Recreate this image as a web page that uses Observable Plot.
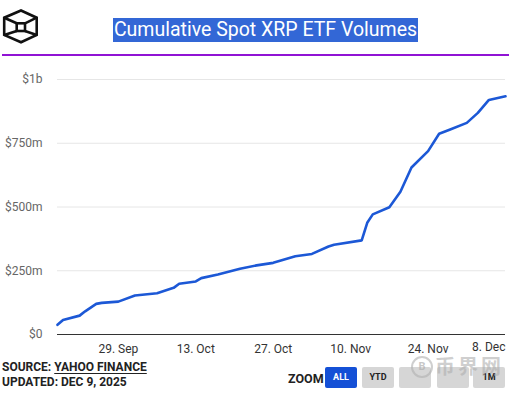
<!DOCTYPE html>
<html><head><meta charset="utf-8">
<script src="https://cdn.jsdelivr.net/npm/d3@7"></script>
<script src="https://cdn.jsdelivr.net/npm/@observablehq/plot@0.6"></script>
<style>
html,body{margin:0;padding:0;background:#fff;}
#wrap{position:relative;width:520px;height:398px;overflow:hidden;font-family:Roboto,"Noto Sans",sans-serif;}
#title{position:absolute;top:18px;left:0;width:531px;text-align:center;}
#title span{background:#3367d6;color:#fff;font-size:19.5px;line-height:24px;padding:0 1px;display:inline-block;}
#rule{position:absolute;top:54px;left:2px;width:507px;height:2px;background:#9013d4;}
#logo{position:absolute;left:2px;top:9px;}
#chart{position:absolute;left:0;top:60px;}
.foot{position:absolute;left:2px;font-weight:bold;font-size:12px;color:#222;letter-spacing:0px;}
.foot u{text-decoration-thickness:1px;text-underline-offset:2px;}
#zoomlbl{position:absolute;left:288px;top:371px;font-weight:bold;font-size:12.5px;color:#222;}
.btn{position:absolute;top:367px;width:32px;height:21px;border-radius:2px;background:#d6d6d6;color:#222;font-size:9px;font-weight:bold;text-align:center;line-height:21px;}
.btn.on{background:#1450d6;color:#fff;}
#wmc{position:absolute;left:411px;top:356px;width:18px;height:18px;border-radius:50%;border:2px solid rgba(175,175,175,0.6);color:rgba(175,175,175,0.7);font-size:11px;font-weight:bold;text-align:center;line-height:18px;}
#wm{position:absolute;left:435px;top:357px;color:rgba(175,175,175,0.6);font-family:"Noto Sans CJK SC";font-size:20px;line-height:17px;height:17px;font-weight:bold;letter-spacing:3px;}
</style></head>
<body><div id="wrap">
<svg id="logo" width="38" height="36" viewBox="0 0 38 36" fill="none" stroke="#111" stroke-width="2.6" stroke-linejoin="miter">
<polygon points="19,1.5 34.7,8.7 34.7,26 19,33.3 2.2,26 2.2,8.7"/>
<line x1="2.2" y1="8.7" x2="14.7" y2="14.3"/>
<line x1="34.7" y1="8.7" x2="23" y2="14.3"/>
<line x1="2.2" y1="26" x2="14.7" y2="22"/>
<line x1="34.7" y1="26" x2="23" y2="22"/>
<rect x="14.7" y="14.3" width="8.3" height="7.7"/>
</svg>
<div id="title"><span>Cumulative Spot XRP ETF Volumes</span></div>
<div id="rule"></div>
<div id="chart"></div>
<div class="foot" style="top:360px">SOURCE: <u>YAHOO FINANCE</u></div>
<div class="foot" style="top:375px">UPDATED: DEC 9, 2025</div>
<div id="zoomlbl">ZOOM</div>
<div class="btn on" style="left:325px">ALL</div>
<div class="btn" style="left:362px">YTD</div>
<div class="btn" style="left:399px"></div>
<div class="btn" style="left:437px"></div>
<div class="btn" style="left:473px">1M</div>
<div id="wmc">B</div>
<div id="wm">币界网</div>
</div>
<script>
const dates = ["2025-09-18","2025-09-19","2025-09-22","2025-09-23","2025-09-25","2025-09-26","2025-09-29","2025-10-02","2025-10-06","2025-10-09","2025-10-10","2025-10-13","2025-10-14","2025-10-17","2025-10-21","2025-10-24","2025-10-27","2025-10-31","2025-11-03","2025-11-06","2025-11-07","2025-11-12","2025-11-13","2025-11-14","2025-11-17","2025-11-19","2025-11-21","2025-11-24","2025-11-26","2025-11-28","2025-12-01","2025-12-03","2025-12-05","2025-12-08"];
const volumesM = [38,57,74,91,120,124,129,153,162,183,199,208,221,235,258,271,281,307,316,345,352,369,438,471,499,560,655,719,787,804,830,869,920,934];
const xTicks = ["2025-09-29","2025-10-13","2025-10-27","2025-11-10","2025-11-24"];
const xLastTick = ["2025-12-08"];
const yTicks = [0,250e6,500e6,750e6,1e9];
const yTickLabels = ["$0","$250m","$500m","$750m","$1b"];

const data = dates.map((d,i)=>({date:new Date(d+"T00:00:00Z"), value:volumesM[i]*1e6}));
const fmt = d3.utcFormat("%-d. %b");
const chart = Plot.plot({
  width:520, height:300,
  marginLeft:57, marginRight:15, marginTop:19, marginBottom:26,
  style:{fontFamily:"Roboto, sans-serif", fontSize:"12px", background:"transparent"},
  x:{type:"utc", domain:[new Date("2025-09-18T00:00:00Z"), new Date("2025-12-08T00:00:00Z")]},
  y:{domain:[0,1e9]},
  marks:[
    Plot.gridY(yTicks.slice(1), {stroke:"#e6e6e6", strokeOpacity:1, strokeWidth:1}),
    Plot.axisY(yTicks, {tickSize:0, tickPadding:15, tickFormat:(d)=>yTickLabels[yTicks.indexOf(d)], fill:"#666", fontSize:12, label:null}),
    Plot.ruleY([0], {stroke:"#333", strokeWidth:1.2}),
    Plot.axisX(xTicks.map(d=>new Date(d+"T00:00:00Z")), {tickSize:0, tickPadding:10, tickFormat:fmt, fill:"#333", fontSize:12, label:null}),
    Plot.text(xLastTick.map(d=>new Date(d+"T00:00:00Z")), {x:d=>d, frameAnchor:"bottom", dy:16, text:fmt, textAnchor:"end", fill:"#333", fontSize:12}),
    Plot.lineY(data, {x:"date", y:"value", stroke:"#1c58d6", strokeWidth:2.6, curve:"linear"})
  ]
});
document.getElementById("chart").appendChild(chart);
</script>
</body></html>
